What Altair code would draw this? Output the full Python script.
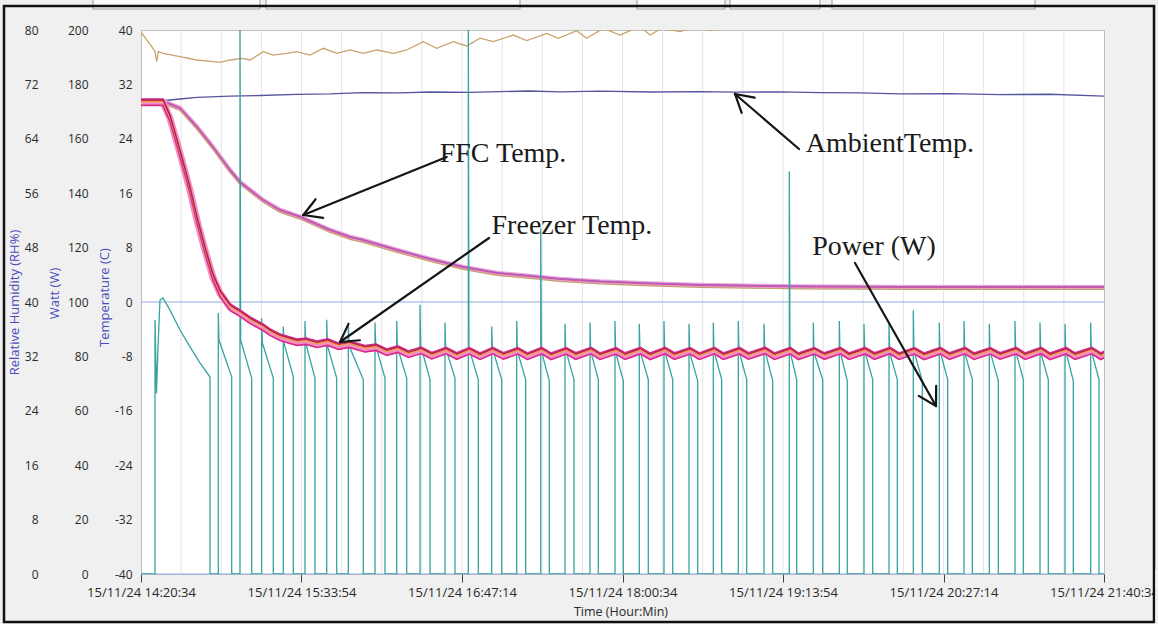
import math
import altair as alt
import pandas as pd

# ---------------- axis values (x in minutes after 15/11/24 14:20:34) ----------------
tick_minutes = [0, 73.3333, 146.6667, 220, 293.3333, 366.6667, 440]
tick_labels = ["15/11/24 14:20:34", "15/11/24 15:33:54", "15/11/24 16:47:14",
               "15/11/24 18:00:34", "15/11/24 19:13:54", "15/11/24 20:27:14",
               "15/11/24 21:40:34"]
minor_grid_minutes = [18.3333 * k for k in range(1, 24)]
temp_ticks = [-40, -32, -24, -16, -8, 0, 8, 16, 24, 32, 40]
watt_ticks = [0, 20, 40, 60, 80, 100, 120, 140, 160, 180, 200]
rh_ticks = [0, 8, 16, 24, 32, 40, 48, 56, 64, 72, 80]
zero_lines = [0, -40]

# ---------------- series ----------------
ambient_t = [0, 8.68, 17.82, 25.59, 40.67, 54.37, 71.28, 86.36, 101.43, 118.33, 132.05,
             150.32, 177.74, 191.44, 209.72, 232.57, 255.41, 271.40, 291.97, 310.24,
             328.52, 346.79, 369.64, 392.49, 415.33, 440]
ambient_T = [29.41, 29.56, 29.85, 30.10, 30.29, 30.37, 30.54, 30.60, 30.78, 30.74, 30.88,
             30.82, 31.03, 30.90, 31.00, 30.88, 30.95, 30.85, 30.90, 30.78,
             30.74, 30.60, 30.65, 30.50, 30.55, 30.29]

ffc_t = [0, 10.97, 17.82, 25.59, 32.90, 40.67, 45.23, 55.74, 63.51, 72.65, 86.36, 95.49,
         101.43, 109.20, 116.97, 132.05, 147.12, 162.66, 177.74, 191.44, 209.72, 232.57,
         255.41, 301.10, 346.79, 440]
ffc_T = [29.41, 29.41, 28.53, 25.74, 22.79, 19.41, 17.65, 15.00, 13.53, 12.54, 10.59, 9.56,
         9.12, 8.38, 7.65, 6.32, 5.15, 4.26, 3.82, 3.38, 3.01, 2.72,
         2.50, 2.28, 2.21, 2.21]

freezer_early_t = [0, 10.05, 13.25, 17.82, 22.39, 25.59, 29.24, 32.90, 36.10, 40.67, 45.23,
                   49.80, 55.74, 58.94, 63.51, 68.08, 71.28]
freezer_early_T = [29.41, 29.41, 27.06, 21.91, 16.47, 12.06, 7.65, 3.68, 1.32, -0.74, -1.62,
                   -2.65, -3.68, -4.41, -5.15, -5.59, -5.88]
# freezer warm peaks / cold troughs for compressor cycles 5..37
freezer_peak = [-5.74, -5.88, -6.18, -6.62, -6.91, -7.08, -7.12, -7.15, -7.12, -7.16, -7.13,
                -7.15, -7.12, -7.16, -7.13, -7.11, -7.15, -7.12, -7.14, -7.10, -7.13, -7.16,
                -7.12, -7.14, -7.11, -7.15, -7.13, -7.12, -7.16, -7.13, -7.11, -7.14, -7.12]
freezer_trough = [-6.18, -6.47, -6.84, -7.35, -7.65, -7.88, -7.92, -7.95, -7.90, -7.94, -7.96,
                  -7.92, -7.95, -7.93, -7.96, -7.92, -7.94, -7.95, -7.91, -7.94, -7.96, -7.93,
                  -7.95, -7.92, -7.94, -7.96, -7.93, -7.95, -7.92, -7.94, -7.96, -7.93, -7.95]
freezer_end = -7.7

rh_t = [0, 2.60, 4.89, 6.40, 7.17, 7.90, 10.05, 17.82, 25.45, 32.90, 36.10, 40.67, 46.01,
        49.80, 55.88, 60.31, 66.57, 71.14, 77.22, 83.29, 89.42, 95.49, 101.57, 107.69,
        115.28, 121.40, 128.98, 135.11, 142.69, 148.81, 154.89, 160.97, 170.10, 176.23,
        185.37, 190.67, 199.07, 203.64, 211.23, 218.86, 228.00, 232.57, 237.91, 246.27,
        253.13, 259.98, 269.12, 291.97, 346.80, 440]
rh_v = [79.7, 78.53, 77.54, 76.81, 75.34, 76.81, 76.57, 76.07, 75.59, 75.34, 75.25, 75.59,
        75.84, 75.59, 76.81, 76.32, 76.57, 76.81, 76.32, 77.31, 76.57, 77.06, 76.57, 77.06,
        76.57, 77.06, 78.28, 77.31, 78.28, 77.65, 78.80, 78.28, 79.26, 78.43,
        79.51, 78.78, 79.90, 78.78, 80.25, 79.26, 80.51, 79.26, 80.25, 79.75,
        80.50, 79.90, 80.80, 81.50, 82.50, 83.50]

# first (long) compressor run
power_first_t = [6.40, 6.40, 7.08, 7.77, 8.68, 10.05, 13.25, 17.82, 22.39, 26.96, 31.53, 31.53]
power_first_w = [0, 93.4, 66.5, 83.5, 100.7, 101.5, 97.0, 89.7, 83.5, 77.6, 72.4, 0]
# later compressor cycles: start, stop, start spike, level after spike, level at stop (W)
cycle_on = [35.32, 45.23, 55.14, 65.01, 74.93, 84.85, 94.72, 106.92, 116.83, 127.48, 138.90,
            149.55, 160.24, 171.66, 182.63, 193.73, 205.15, 216.57, 227.68, 238.96, 250.39,
            261.49, 272.91, 284.66, 296.21, 307.18, 319.06, 330.34, 341.77, 352.87, 364.75,
            376.04, 387.60, 399.34, 410.76, 422.19, 433.93]
cycle_off = [41.44, 50.58, 60.45, 69.59, 79.50, 89.42, 101.57, 111.49, 121.40, 132.05, 143.47,
             154.11, 164.81, 175.77, 186.56, 197.84, 208.94, 220.37, 231.79, 242.94, 254.36,
             265.33, 276.75, 288.63, 299.59, 311.47, 322.71, 334.32, 345.56, 356.98, 368.59,
             379.83, 391.71, 403.13, 414.55, 425.98, 437.72]
cycle_peak = [96, 205, 94, 91, 93, 93.5, 92, 92.5, 93, 99, 92.5, 205, 91, 93, 127, 92, 92.5, 93,
              92, 93, 92, 92.5, 93, 92, 148, 92.5, 93, 92, 92.5, 97, 92.5, 93, 92, 93, 92.5,
              92, 92.5]
cycle_settle = [86, 86, 85, 85, 85, 84, 84, 84, 83.5, 84, 83, 83, 83, 82, 82, 82.5, 82, 81.5,
                82, 82, 81.5, 82, 82, 82.5, 82, 81.5, 82, 82, 81.5, 82, 82, 81.5, 82, 82,
                81.5, 82, 82]
cycle_end = [72.5, 72, 72, 72.5, 72, 72, 71.5, 72, 72, 71.5, 72, 71.5, 71.5, 71.5, 71, 71.5,
             71.5, 71, 71.5, 71.5, 71, 71.5, 71.5, 71, 71.5, 71.5, 71, 71.5, 71.5, 71, 71.5,
             71.5, 71, 71.5, 71.5, 71, 71.5]

# annotations (label anchor and arrow tail/tip in minutes / degC)
ann_text = ["FFC Temp.", "Freezer Temp.", "AmbientTemp.", "Power (W)"]
ann_t = [165.4, 196.9, 342.2, 334.9]
ann_v = [20.59, 10.0, 22.06, 6.91]
arrow_tail_t = [139.7, 159.0, 300.65, 326.23]
arrow_tail_v = [21.32, 9.41, 22.5, 5.74]
arrow_tip_t = [74.16, 90.93, 271.4, 363.24]
arrow_tip_v = [12.79, -5.88, 30.59, -15.29]

# ---------------- tables ----------------
W_PLOT, H_PLOT = 963, 544
pw_t, pw_w = [0.0], [0.0]
pw_t += power_first_t
pw_w += power_first_w
for on, off, pk, st, en in zip(cycle_on, cycle_off, cycle_peak, cycle_settle, cycle_end):
    pw_t += [on, on, on + 0.3, off, off]
    pw_w += [0, pk, st, en, 0]
pw_t.append(440)
pw_w.append(0)
power_df = pd.DataFrame({"t": pw_t, "w": pw_w, "i": list(range(len(pw_t)))})

fz_t = list(freezer_early_t)
fz_v = list(freezer_early_T)
for k in range(len(freezer_peak)):
    j = k + 4
    fz_t += [cycle_on[j] + 0.5, cycle_off[j] + 0.8]
    fz_v += [freezer_peak[k], freezer_trough[k]]
fz_t.append(440)
fz_v.append(freezer_end)

rh_df = pd.DataFrame({"t": rh_t, "v": rh_v})

TC = "#4b4bbd"
LABEL_FONT = "Open Sans"

x_axis = alt.Axis(values=tick_minutes,
                  labelExpr="[" + ",".join("'%s'" % s for s in tick_labels) + "][round(datum.value / 73.3333)]",
                  grid=False, domain=False, ticks=True, tickSize=8, tickColor="#444",
                  labelFont=LABEL_FONT, labelFontSize=13, labelColor="#2a2a2a", labelPadding=4,
                  labelFlush=False, labelOverlap=False,
                  title="Time (Hour:Min)", titleFont=LABEL_FONT, titleFontSize=12.5,
                  titleColor="#2a2a2a", titleFontWeight="normal", titleX=W_PLOT / 2 - 2, titleY=31,
                  titleBaseline="top")
X = alt.X("t:Q", scale=alt.Scale(domain=[0, 440], nice=False, zero=False), axis=x_axis)
X2 = alt.X2("t2")
temp_scale = alt.Scale(domain=[-40, 40], nice=False, zero=False)


def y_axis(values, offset, title, title_x, title_y, pad):
    return alt.Axis(values=values, orient="left", offset=offset, grid=False, domain=False,
                    ticks=False, tickSize=0, labelPadding=pad, labelFont=LABEL_FONT,
                    labelFontSize=12, labelColor="#2a2a2a",
                    labelExpr="datum.value < 0 ? '-' + abs(datum.value) : '' + datum.value",
                    title=title, titleColor=TC, titleFont=LABEL_FONT, titleFontSize=13,
                    titleFontWeight="normal", titleAngle=270, titleAlign="center",
                    titleBaseline="bottom", titleX=title_x, titleY=title_y)


layers = []

# top toolbar boxes of the original screenshot
for bx0, bx1 in [(-48, 119), (125, 379), (496, 584), (589, 679), (691, 894)]:
    layers.append(alt.Chart(pd.DataFrame({"a": [0]})).mark_rect(
        fill="#fbfbfb", stroke="#9a9a9a", strokeWidth=1).encode(
        x=alt.value(bx0), x2=alt.value(bx1), y=alt.value(-40), y2=alt.value(-21)))

# grid
layers.append(alt.Chart(pd.DataFrame({"t": minor_grid_minutes})).mark_rule(
    color="#e4e4e4", strokeWidth=1).encode(x=X))
layers.append(alt.Chart(pd.DataFrame({"v": temp_ticks})).mark_rule(
    color="#e4e4e4", strokeWidth=1).encode(
    x=X, y=alt.Y("v:Q", scale=temp_scale,
                  axis=y_axis(temp_ticks, 0, "Temperature (C)", -30, 267, 9))).transform_filter(
    "datum.v > -40 && datum.v < 40 && datum.v != 0"))
layers.append(alt.Chart(pd.DataFrame({"v": zero_lines})).mark_rule(
    color="#93a9e3", strokeWidth=1.2).encode(y=alt.Y("v:Q", scale=temp_scale, axis=None)))

# humidity (tan)
layers.append(alt.Chart(rh_df).mark_line(color="#c9a36c", strokeWidth=1.3, clip=True).encode(
    x=X, y=alt.Y("v:Q", scale=alt.Scale(domain=[0, 80], nice=False, zero=False),
                 axis=y_axis(rh_ticks, 95, "Relative Humidity (RH%)", -25, 272, 8))))

# ambient
layers.append(alt.Chart(pd.DataFrame({"t": ambient_t, "v": ambient_T})).mark_line(
    color="#55559f", strokeWidth=1.3, clip=True).encode(
    x=X, y=alt.Y("v:Q", scale=temp_scale, axis=None)))

# FFC sensors
for off, col, wd in [(0, "#eaa6de", 4.5), (0, "#e0509f", 2.0), (0.05, "#8c6cc8", 0.8), (-0.35, "#c3a06e", 1.1)]:
    layers.append(alt.Chart(pd.DataFrame({"t": ffc_t, "v": [v + off for v in ffc_T]})).mark_line(
        color=col, strokeWidth=wd, clip=True).encode(
        x=X, y=alt.Y("v:Q", scale=temp_scale, axis=None)))

# power (teal)
layers.append(alt.Chart(power_df).mark_line(color="#36a3a0", strokeWidth=1.3, clip=True).encode(
    x=X, y=alt.Y("w:Q", scale=alt.Scale(domain=[0, 200], nice=False, zero=False),
                 axis=y_axis(watt_ticks, 45, "Watt (W)", -35, 263, 8)),
    order=alt.Order("i:Q")))

# freezer sensors
for off, col, wd in [(-0.05, "#f290c8", 7), (0.45, "#dc2a8c", 1.6), (-0.5, "#dc2a8c", 1.6),
                     (0.2, "#e52a2a", 0.9), (0.05, "#f4a41f", 0.9), (0.3, "#6e1430", 0.7)]:
    layers.append(alt.Chart(pd.DataFrame({"t": fz_t, "v": [v + off for v in fz_v]})).mark_line(
        color=col, strokeWidth=wd, clip=True).encode(
        x=X, y=alt.Y("v:Q", scale=temp_scale, axis=None)))

# annotation arrows
PX_PER_MIN = W_PLOT / 440
PX_PER_DEG = H_PLOT / 80
seg = {"t": [], "v": [], "t2": [], "v2": []}
for a_t, a_v, b_t, b_v in zip(arrow_tail_t, arrow_tail_v, arrow_tip_t, arrow_tip_v):
    seg["t"].append(a_t); seg["v"].append(a_v); seg["t2"].append(b_t); seg["v2"].append(b_v)
    ang = math.atan2((a_v - b_v) * PX_PER_DEG, (a_t - b_t) * PX_PER_MIN)
    for s in (-1, 1):
        bb = ang + s * math.radians(30)
        seg["t"].append(b_t); seg["v"].append(b_v)
        seg["t2"].append(b_t + 20 * math.cos(bb) / PX_PER_MIN)
        seg["v2"].append(b_v + 20 * math.sin(bb) / PX_PER_DEG)
layers.append(alt.Chart(pd.DataFrame(seg)).mark_rule(color="#151515", strokeWidth=2.2, strokeCap="round").encode(
    x=X, x2=X2, y=alt.Y("v:Q", scale=temp_scale, axis=None), y2=alt.Y2("v2")))

layers.append(alt.Chart(pd.DataFrame({"t": ann_t, "v": ann_v, "txt": ann_text})).mark_text(
    font="Liberation Serif", fontSize=28, align="center", baseline="alphabetic", color="#1a1a1a").encode(
    x=X, y=alt.Y("v:Q", scale=temp_scale, axis=None), text="txt:N"))

# outer frame of the original screenshot (drawn last so it trims the edge label)
layers.append(alt.Chart(pd.DataFrame({"a": [0]})).mark_rect(filled=False, stroke="#111", strokeWidth=2.5).encode(
    x=alt.value(-137), x2=alt.value(1013), y=alt.value(-24), y2=alt.value(592)))
layers.append(alt.Chart(pd.DataFrame({"a": [0]})).mark_rect(fill="#f0f0f0", strokeWidth=0).encode(
    x=alt.value(1014.3), x2=alt.value(1017), y=alt.value(540), y2=alt.value(594)))

chart = alt.layer(*layers).resolve_scale(y="independent").properties(
    width=W_PLOT, height=H_PLOT,
    padding={"left": 141, "top": 30, "right": 54, "bottom": 50},
    autosize=alt.AutoSizeParams(type="none"),
    background="#f0f0f0",
).configure_view(fill="white", stroke="#bdbdbd", strokeWidth=1)

chart.save("out.html", embed_options={"renderer": "svg", "actions": False})
